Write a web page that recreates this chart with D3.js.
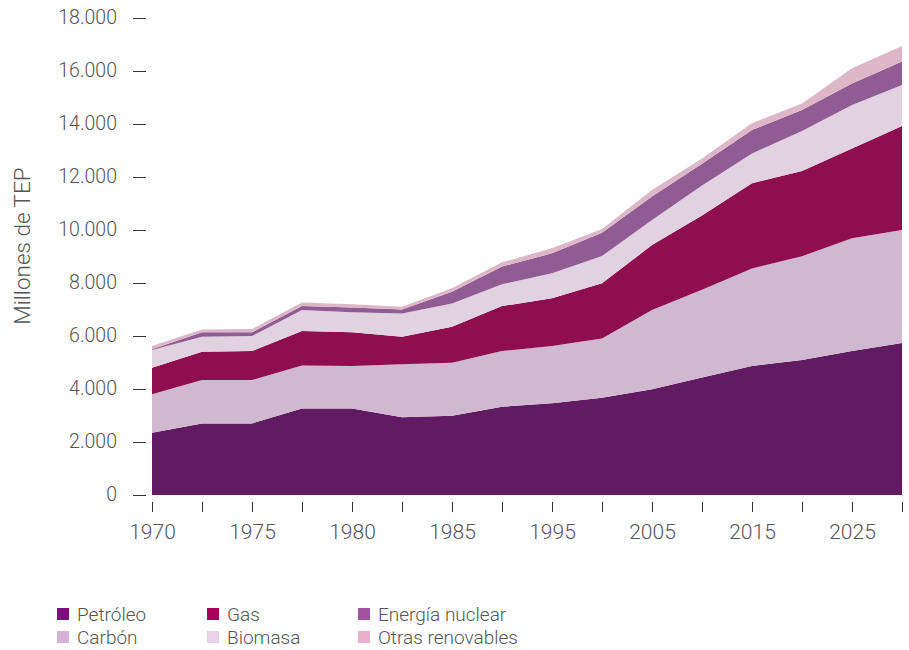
<!DOCTYPE html>
<html>
<head>
<meta charset="utf-8">
<script src="https://cdn.jsdelivr.net/npm/d3@7"></script>
<style>
  body { margin: 0; background: #fff; }
  text { font-family: Roboto, sans-serif; font-weight: 300; fill: #555; }
</style>
</head>
<body>
<svg width="909" height="650"></svg>
<script>
// years on the x axis (only every other one is labelled)
var years = ['1970','1973','1975','1978','1980','1983','1985','1990','1995','2000','2005','2010','2015','2020','2025','2030'];
var yTicks = [0, 2000, 4000, 6000, 8000, 10000, 12000, 14000, 16000, 18000];

var series = ['Petróleo', 'Carbón', 'Gas', 'Biomasa', 'Energía nuclear', 'Otras renovables'];

// millones de TEP
var petroleo  = [2350, 2700, 2700, 3260, 3260, 2930, 2990, 3330, 3460, 3670, 3990, 4430, 4870, 5090, 5430, 5740];
var carbon    = [1450, 1640, 1640, 1630, 1610, 2000, 2000, 2100, 2160, 2240, 2990, 3320, 3680, 3920, 4260, 4260];
var gas       = [1000, 1070, 1090, 1300, 1270, 1040, 1360, 1700, 1800, 2080, 2450, 2800, 3210, 3220, 3390, 3920];
var biomasa   = [ 670,  560,  570,  790,  760,  880,  880,  820,  950, 1030,  950, 1130, 1130, 1510, 1640, 1550];
var nuclear   = [  30,  170,  140,  150,  180,  150,  440,  670,  750,  880,  880,  820,  880,  790,  810,  890];
var otras     = [ 120,  110,  120,  130,  120,  100,  130,  160,  190,  140,  250,  200,  260,  240,  570,  580];

var areaColors   = ['#621a63', '#d1b8d1', '#8e0e4f', '#e0d2e0', '#915c93', '#ddb6c8'];
var legendColors = ['#7b0f7d', '#d7b0d7', '#a6005a', '#e8d2e8', '#a052a0', '#e8b0cc'];

var svg = d3.select('svg');

var table = years.map(function(y, i) {
	return { year: y, 'Petróleo': petroleo[i], 'Carbón': carbon[i], 'Gas': gas[i],
		'Biomasa': biomasa[i], 'Energía nuclear': nuclear[i], 'Otras renovables': otras[i] };
});

var x = d3.scalePoint().domain(years).range([152, 902]);
var y = d3.scaleLinear().domain([0, 18000]).range([495, 18]);

var stacked = d3.stack().keys(series)(table);

var area = d3.area()
	.x(function(d) { return x(d.data.year); })
	.y0(function(d) { return y(d[0]); })
	.y1(function(d) { return y(d[1]); });

svg.append('g').selectAll('path')
	.data(stacked)
	.enter().append('path')
	.attr('d', area)
	.attr('fill', function(d, i) { return areaColors[i]; });

// y axis: just the dashes and labels
var yAxis = svg.append('g')
	.attr('transform', 'translate(146,0)')
	.call(d3.axisLeft(y).tickValues(yTicks).tickSize(13).tickPadding(16)
		.tickFormat(function(d) { return d3.format(',')(d).replace(/,/g, '.'); }));
yAxis.select('.domain').remove();
yAxis.selectAll('line').attr('stroke', '#333');
yAxis.selectAll('text').attr('font-size', 19.5).attr('dy', '0.3em').style('font-family', 'Roboto, sans-serif');

// x axis
var xAxis = svg.append('g')
	.attr('transform', 'translate(0,502)')
	.call(d3.axisBottom(x).tickSize(10).tickPadding(12)
		.tickFormat(function(d, i) { return i % 2 == 0 ? d : ''; }));
xAxis.select('.domain').remove();
xAxis.selectAll('line').attr('stroke', '#333');
xAxis.selectAll('text').attr('font-size', 21).style('font-family', 'Roboto, sans-serif');

svg.append('text')
	.attr('transform', 'translate(30,246) rotate(-90)')
	.attr('text-anchor', 'middle')
	.attr('font-size', 22.5)
	.text('Millones de TEP');

// legend, 3 columns x 2 rows
var legendX = [57, 207, 358];
var legendOrder = [0, 2, 4, 1, 3, 5];
legendOrder.forEach(function(s, k) {
	var col = k % 3, row = Math.floor(k / 3);
	var g = svg.append('g').attr('transform', 'translate(' + legendX[col] + ',' + (614 + row * 23) + ')');
	g.append('rect').attr('x', 0).attr('y', -6).attr('width', 12).attr('height', 12).attr('fill', legendColors[s]);
	g.append('text').attr('x', 20).attr('y', 7).attr('font-size', 19).text(series[s]);
});
</script>
</body>
</html>
